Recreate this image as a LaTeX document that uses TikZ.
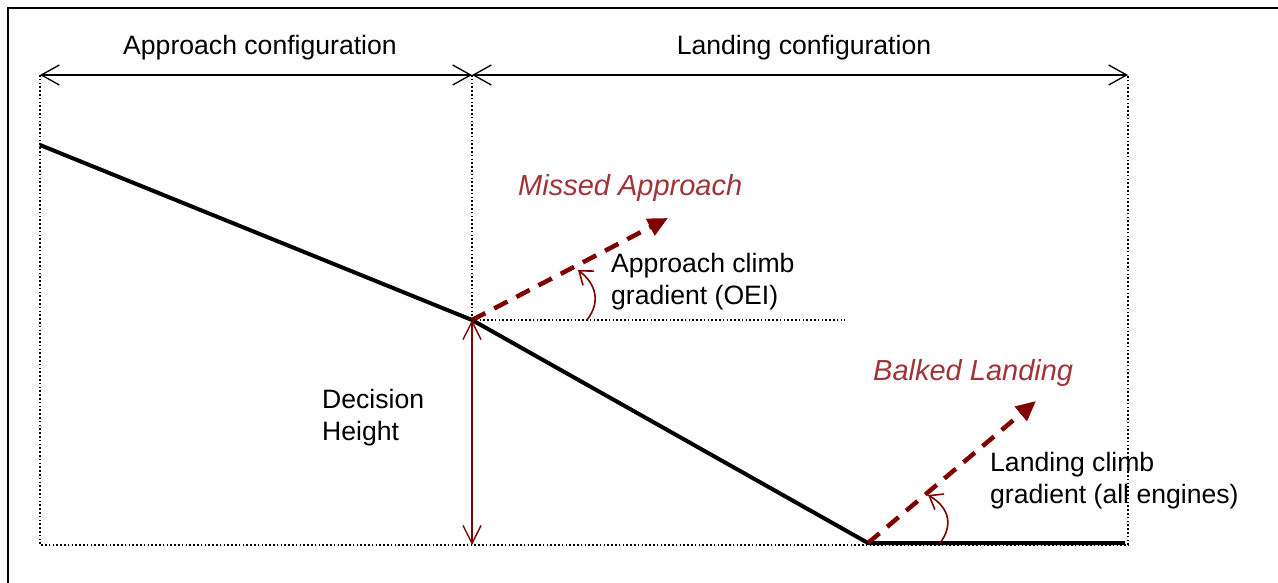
\documentclass[tikz,border=0pt]{standalone}
\usepackage{fontspec}
\setmainfont{Liberation Sans}
\usetikzlibrary{arrows.meta}
\definecolor{darkred}{RGB}{128,0,0}
\definecolor{labelred}{RGB}{160,52,56}

\begin{document}
\begin{tikzpicture}[x=1pt,y=-1pt,
  lbl/.style={inner sep=0pt, font=\fontsize{26.6}{32}\selectfont, align=left},
  itlbl/.style={inner sep=0pt, labelred, font=\fontsize{29}{34}\selectfont\itshape},
  dots/.style={line width=1.8pt, dash pattern=on 1.6pt off 2.2pt},
  dim/.style={line width=1.3pt, {Straight Barb[length=18pt,width=20pt]}-{Straight Barb[length=18pt,width=20pt]}},
  glide/.style={line width=4pt},
  climb/.style={darkred, line width=4.5pt, dash pattern=on 15pt off 10pt, -{Triangle[length=20pt,width=18pt]}},
  angarc/.style={darkred, line width=1.6pt, -{Straight Barb[length=12pt,width=18pt]}}]
\useasboundingbox (0,0) rectangle (1278,583);
\def\ytop{75}\def\ybot{545}
\def\xl{40}\def\xm{472}\def\xr{1128}
% frame
\draw[line width=2pt] (8,583) -- (8,8) -- (1278,8);
% glide path points
\coordinate (start) at (\xl,145);
\coordinate (dh) at (\xm,320);
\coordinate (td) at (868,543);
\coordinate (stop) at (1125,543);
\coordinate (topL) at (\xl,\ytop);
\coordinate (topM) at (\xm,\ytop);
\coordinate (topR) at (\xr,\ytop);
\coordinate (botL) at (\xl,\ybot);
\coordinate (botM) at (\xm,\ybot);
\coordinate (botR) at (\xr,\ybot);
% guide lines
\draw[dots] (topL) -- (botL) -- (botR) -- (topR);
\draw[dots] (topM) -- (dh);
\draw[dots] (dh) -- (845,320);
% configuration spans
\draw[dim] (topL) -- (topM);
\draw[dim] (topM) -- (topR);
\node[lbl, anchor=base] (appcfg) at (260,55) {Approach configuration};
\node[lbl, anchor=base] (landcfg) at (804,55) {Landing configuration};
% approach path
\draw[glide] (start) -- (dh) -- (td) -- (stop);
% decision height
\draw[darkred, line width=1.4pt, {Straight Barb[length=18pt,width=18pt]}-{Straight Barb[length=18pt,width=18pt]}] (dh) -- (botM);
\node[lbl, anchor=west] (dhlbl) at (322,418) {Decision\\Height};
% missed approach
\coordinate (maend) at (668,218);
\draw[climb] (dh) -- (maend);
\node[itlbl, anchor=base west] (malbl) at (518,196) {Missed Approach};
\draw[angarc] (587,320) .. controls (601,302) and (596,284) .. (578,270);
\node[lbl, anchor=west] (oeilbl) at (611,282) {Approach climb\\gradient (OEI)};
% balked landing
\coordinate (blend) at (1036,401);
\draw[climb] (td) -- (blend);
\node[itlbl, anchor=base west] (bllbl) at (873,380) {Balked Landing};
\draw[angarc] (940,543) .. controls (953,526) and (950,508) .. (928,495);
\node[lbl, anchor=west] (aeolbl) at (990,481) {Landing climb\\gradient (all engines)};
\end{tikzpicture}
\end{document}
